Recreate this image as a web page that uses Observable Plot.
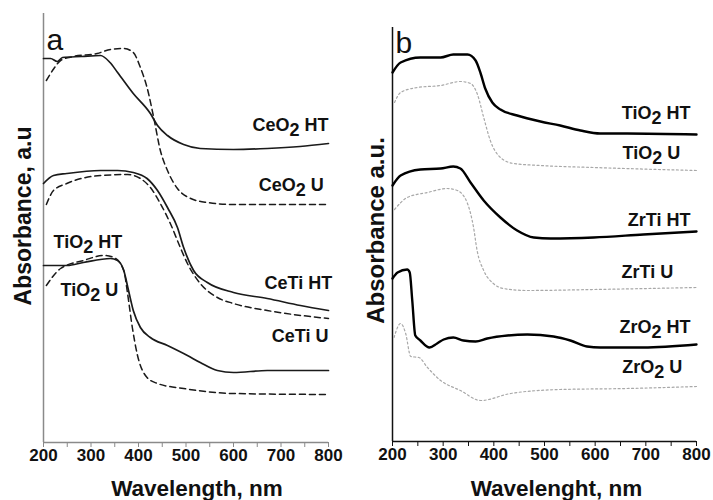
<!DOCTYPE html>
<html>
<head>
<meta charset="utf-8">
<script src="https://cdn.jsdelivr.net/npm/d3@7"></script>
<script src="https://cdn.jsdelivr.net/npm/@observablehq/plot@0.6"></script>
<style>
  html, body { margin: 0; padding: 0; background: #fff; }
  #wrap { display: flex; width: 713px; height: 500px; }
  svg { overflow: visible; }
</style>
</head>
<body>
<div id="wrap"></div>
<script>
// ---------- Panel a data: [wavelength nm, absorbance a.u. (offset)] ----------
const a_CeO2_HT = [[200,3.84],[215,3.84],[229,3.81],[240,3.85],[280,3.86],[320,3.87],[340,3.80],[356,3.70],[389,3.49],[425,3.29],[440,3.17],[461,3.07],[495,2.98],[530,2.94],[600,2.93],[671,2.94],[740,2.96],[800,2.99]];
const a_CeO2_U  = [[206,3.62],[222,3.74],[236,3.82],[263,3.86],[313,3.89],[341,3.93],[369,3.94],[389,3.90],[404,3.75],[418,3.55],[432,3.25],[446,2.92],[461,2.72],[482,2.54],[510,2.44],[545,2.40],[600,2.38],[800,2.38]];
const a_CeTi_HT = [[200,2.59],[221,2.67],[249,2.69],[320,2.72],[356,2.72],[389,2.70],[418,2.64],[440,2.52],[461,2.35],[482,2.15],[495,1.95],[516,1.72],[545,1.60],[600,1.50],[671,1.44],[741,1.37],[800,1.32]];
const a_CeTi_U  = [[206,2.38],[221,2.52],[249,2.59],[320,2.67],[377,2.68],[404,2.64],[425,2.55],[446,2.39],[467,2.19],[488,1.95],[503,1.79],[530,1.59],[566,1.45],[600,1.39],[671,1.32],[800,1.24]];
const a_TiO2_HT = [[200,1.77],[250,1.77],[284,1.80],[341,1.84],[356,1.82],[369,1.72],[379,1.52],[389,1.32],[404,1.15],[425,1.05],[461,0.97],[503,0.87],[530,0.80],[566,0.72],[600,0.70],[671,0.72],[800,0.72]];
const a_TiO2_U  = [[206,1.57],[236,1.74],[284,1.82],[327,1.87],[348,1.85],[369,1.72],[377,1.49],[387,1.15],[397,0.89],[418,0.65],[440,0.59],[495,0.54],[600,0.49],[800,0.48]];

const a_labelsRight = [["CeO2 HT",800,3.12],["CeO2 U",790,2.52],["CeTi HT",808,1.54],["CeTi U",800,1.01]];
const a_labelsLeft  = [["TiO2 HT",221,1.95],["TiO2 U",236,1.47]];

// ---------- Panel b data ----------
const b_TiO2_HT = [[200,3.69],[216,3.79],[255,3.84],[295,3.84],[320,3.87],[348,3.87],[364,3.81],[374,3.68],[383,3.53],[397,3.39],[413,3.32],[446,3.26],[492,3.20],[531,3.16],[571,3.11],[610,3.08],[663,3.08],[800,3.07]];
const b_TiO2_U  = [[204,3.39],[216,3.49],[249,3.54],[295,3.56],[334,3.60],[354,3.58],[367,3.48],[380,3.24],[393,3.01],[413,2.84],[439,2.78],[492,2.76],[597,2.74],[800,2.71]];
const b_ZrTi_HT = [[200,2.56],[216,2.66],[255,2.72],[295,2.73],[320,2.75],[334,2.73],[354,2.59],[380,2.41],[413,2.24],[446,2.11],[479,2.04],[512,2.03],[597,2.04],[695,2.07],[800,2.10]];
const b_ZrTi_U  = [[204,2.32],[229,2.44],[269,2.49],[308,2.53],[328,2.51],[348,2.38],[360,2.14],[367,1.91],[380,1.71],[399,1.58],[419,1.53],[466,1.51],[597,1.52],[800,1.54]];
const b_ZrO2_HT = [[200,1.63],[210,1.69],[229,1.72],[234,1.69],[239,1.41],[245,1.06],[255,1.01],[273,0.94],[288,0.98],[301,1.02],[320,1.04],[340,1.01],[364,1.00],[387,1.03],[427,1.06],[466,1.07],[518,1.05],[551,1.01],[584,0.95],[610,0.94],[695,0.94],[800,0.97]];
const b_ZrO2_U  = [[203,1.04],[216,1.18],[226,1.08],[236,0.85],[252,0.84],[269,0.74],[295,0.61],[334,0.51],[374,0.41],[433,0.48],[531,0.52],[663,0.53],[800,0.55]];

const b_labelsRight = [["TiO2 HT",788,3.23],["TiO2 U",768,2.83],["ZrTi HT",788,2.16],["ZrTi U",754,1.64],["ZrO2 HT",788,1.09],["ZrO2 U",772,0.69]];

const xTicks = d3.range(200, 801, 50);
const xTickLabels = [200, 300, 400, 500, 600, 700, 800];
const FONT = "'Liberation Sans', Arial, Helvetica, sans-serif";

function toRows(arr) { return arr.map(([x, y]) => ({x, y})); }
function toLabels(arr) { return arr.map(([t, x, y]) => ({t, x, y})); }

function subscript(svg) {
  const NS = "http://www.w3.org/2000/svg";
  svg.querySelectorAll("text").forEach(el => {
    if (el.children.length) return;
    const m = el.textContent.match(/^(.*O)2(.*)$/);
    if (!m) return;
    el.textContent = "";
    el.appendChild(document.createTextNode(m[1]));
    const s = document.createElementNS(NS, "tspan");
    s.setAttribute("dy", "0.3em"); s.textContent = "2";
    el.appendChild(s);
    const r = document.createElementNS(NS, "tspan");
    r.setAttribute("dy", "-0.3em"); r.textContent = m[2];
    el.appendChild(r);
  });
}

function panel(o) {
  const marks = [
    Plot.ruleX([200], {stroke: o.axisColor, strokeWidth: 1.5}),
    Plot.ruleY([0], {stroke: o.axisColor, strokeWidth: 1.5}),
    Plot.axisX({ticks: xTicks, tickSize: 5, stroke: o.axisColor, tickFormat: () => "", label: null}),
    Plot.axisY({ticks: [], label: null}),
    Plot.text(xTickLabels, {x: d => d, text: d => String(d), frameAnchor: "bottom", lineAnchor: "top", dy: 6,
      fontSize: 17, fontWeight: "bold", fill: "#111"}),
  ];
  for (const s of o.solid) marks.push(Plot.line(toRows(s), {x: "x", y: "y", curve: "monotone-x", stroke: o.solidColor, strokeWidth: o.solidWidth}));
  for (const s of o.broken) marks.push(Plot.line(toRows(s), {x: "x", y: "y", curve: "monotone-x", stroke: o.brokenColor, strokeWidth: o.brokenWidth, strokeDasharray: o.dash}));
  marks.push(Plot.text(toLabels(o.labelsRight), {x: "x", y: "y", text: "t", textAnchor: "end", lineAnchor: "bottom", fontSize: 18, fontWeight: "bold", fill: "#111"}));
  if (o.labelsLeft) marks.push(Plot.text(toLabels(o.labelsLeft), {x: "x", y: "y", text: "t", textAnchor: "start", lineAnchor: "bottom", fontSize: 18, fontWeight: "bold", fill: "#111"}));
  marks.push(Plot.text([o.letter], {frameAnchor: "top-left", textAnchor: "start", lineAnchor: "bottom", dx: o.letterDx, dy: o.letterDy, fontSize: 30, fill: "#111"}));
  marks.push(Plot.text([o.xTitle], {frameAnchor: "bottom", textAnchor: "middle", lineAnchor: "bottom", dx: o.xTitleDx, dy: o.xTitleDy, fontSize: 22.5, fontWeight: "bold", fill: "#111"}));
  marks.push(Plot.text([o.yTitle], {frameAnchor: "left", textAnchor: "middle", lineAnchor: "middle", rotate: -90, dx: o.yTitleDx, dy: o.yTitleDy, fontSize: o.yTitleSize, fontWeight: "bold", fill: "#111"}));
  const svg = Plot.plot({
    width: o.width, height: 500,
    marginLeft: o.marginLeft, marginRight: o.marginRight, marginTop: o.marginTop, marginBottom: o.marginBottom,
    style: {fontFamily: FONT, background: "transparent"},
    x: {domain: [200, 800]},
    y: {domain: [0, o.yMax]},
    marks
  });
  subscript(svg);
  return svg;
}

const wrap = document.getElementById("wrap");
wrap.appendChild(panel({
  width: 356, marginLeft: 43, marginRight: 28, marginTop: 13, marginBottom: 58, yMax: 4.29,
  axisColor: "#8a8a8a",
  solid: [a_CeO2_HT, a_CeTi_HT, a_TiO2_HT], broken: [a_CeO2_U, a_CeTi_U, a_TiO2_U],
  solidColor: "#1a1a1a", solidWidth: 1.7, brokenColor: "#1a1a1a", brokenWidth: 1.5, dash: "6,4",
  labelsRight: a_labelsRight, labelsLeft: a_labelsLeft,
  letter: "a", letterDx: 3, letterDy: 36,
  xTitle: "Wavelength, nm", xTitleDx: 11, xTitleDy: 53,
  yTitle: "Absorbance, a.u", yTitleDx: -20, yTitleDy: -12, yTitleSize: 23
}));
wrap.appendChild(panel({
  width: 357, marginLeft: 36, marginRight: 17, marginTop: 27, marginBottom: 59, yMax: 4.14,
  axisColor: "#111",
  solid: [b_TiO2_HT, b_ZrTi_HT, b_ZrO2_HT], broken: [b_TiO2_U, b_ZrTi_U, b_ZrO2_U],
  solidColor: "#000", solidWidth: 2.4, brokenColor: "#a8a8a8", brokenWidth: 1.2, dash: "2,2.5",
  labelsRight: b_labelsRight,
  letter: "b", letterDx: 3, letterDy: 25,
  xTitle: "Wavelenght, nm", xTitleDx: 12, xTitleDy: 54,
  yTitle: "Absorbance a.u.", yTitleDx: -16, yTitleDy: -4, yTitleSize: 24
}));
</script>
</body>
</html>
